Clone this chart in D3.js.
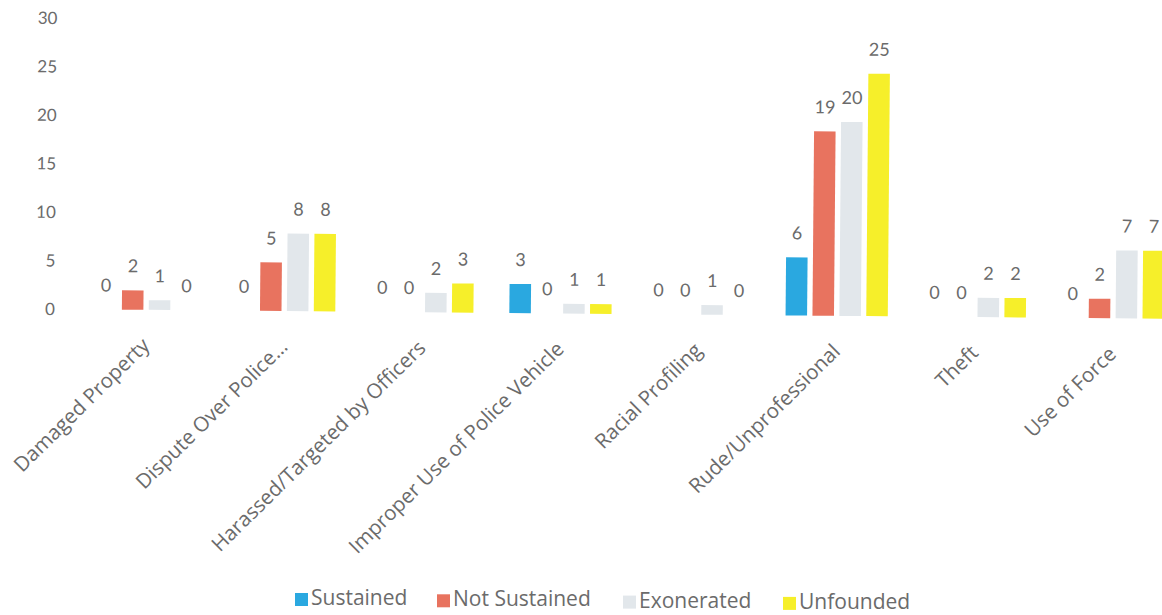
<!DOCTYPE html>
<html>
<head>
<meta charset="utf-8">
<script src="https://cdn.jsdelivr.net/npm/d3@7"></script>
<style>
  html, body { margin: 0; padding: 0; background: #fff; }
  svg { display: block; }
  text { fill: #6b6b6b; }
</style>
</head>
<body>
<svg id="chart" width="1162" height="615"></svg>
<script>
const categories = ["Damaged Property", "Dispute Over Police…", "Harassed/Targeted by Officers",
  "Improper Use of Police Vehicle", "Racial Profiling", "Rude/Unprofessional", "Theft", "Use of Force"];
const series = ["Sustained", "Not Sustained", "Exonerated", "Unfounded"];
const sustained    = [0, 0, 0, 3, 0, 6, 0, 0];
const notSustained = [2, 5, 0, 0, 0, 19, 0, 2];
const exonerated   = [1, 8, 2, 1, 1, 20, 2, 7];
const unfounded    = [0, 8, 3, 1, 0, 25, 2, 7];
const yTicks = [0, 5, 10, 15, 20, 25, 30];
const colors = ["#2aa8e0", "#e8735f", "#e2e7eb", "#f6ef2a"];

const values = [sustained, notSustained, exonerated, unfounded];
const rows = categories.map((c, i) => ({ cat: c, vals: series.map((s, j) => ({ s, v: values[j][i] })) }));

const svg = d3.select("#chart");
const g = svg.append("g").attr("transform", "rotate(0.5, 50, 310)");

const x0 = d3.scaleBand().domain(categories).range([77, 1182]).padding(0);
const bw = x0.bandwidth();
const x1 = d3.scaleBand().domain(series).range([bw * 0.13, bw * 0.87]).paddingInner(0.2);
const y = d3.scaleLinear().domain([0, 30]).range([309, 18]);

// y axis
const yAxis = d3.axisLeft(y).tickValues(yTicks).tickSize(0).tickPadding(0);
const ya = g.append("g").attr("transform", "translate(55,0)").call(yAxis);
ya.select(".domain").remove();
ya.selectAll("text").style("font-size", "17px").style("fill", "#6b6b6b")
  .style("font-family", "Lato, sans-serif");

// bars
const grp = g.selectAll(".grp").data(rows).enter().append("g")
  .attr("transform", d => `translate(${x0(d.cat)},0)`);
grp.selectAll("rect").data(d => d.vals).enter().append("rect")
  .attr("x", d => x1(d.s))
  .attr("width", x1.bandwidth())
  .attr("y", d => y(d.v))
  .attr("height", d => y(0) - y(d.v))
  .attr("fill", (d, i) => colors[i]);
grp.selectAll(".lbl").data(d => d.vals).enter().append("text")
  .attr("class", "lbl")
  .attr("x", d => x1(d.s) + x1.bandwidth() / 2)
  .attr("y", d => y(d.v) - 18)
  .attr("text-anchor", "middle")
  .style("font-size", "18px").style("font-family", "Lato, sans-serif")
  .text(d => d.v);

// x axis labels
const xAxis = d3.axisBottom(x0).tickSize(0).tickPadding(0);
const xa = g.append("g").attr("transform", `translate(0,${y(0)})`).call(xAxis);
xa.select(".domain").remove();
xa.selectAll("text")
  .attr("text-anchor", "end")
  .attr("dy", 0)
  .attr("transform", "translate(5,37) rotate(-45)")
  .style("font-size", "20.5px").style("fill", "#6b6b6b")
  .style("font-family", "'Open Sans', sans-serif");

// legend
const legendX = [295, 437, 623, 783];
const lg = svg.selectAll(".leg").data(series).enter().append("g")
  .attr("transform", (d, i) => `translate(${legendX[i]},${592 + i * 1.3})`);
lg.append("rect").attr("width", 13).attr("height", 13).attr("y", 1)
  .attr("fill", (d, i) => colors[i]);
lg.append("text").attr("x", 16).attr("y", 13)
  .style("font-size", "21px").style("font-family", "'Open Sans', sans-serif").text(d => d);
</script>
</body>
</html>
